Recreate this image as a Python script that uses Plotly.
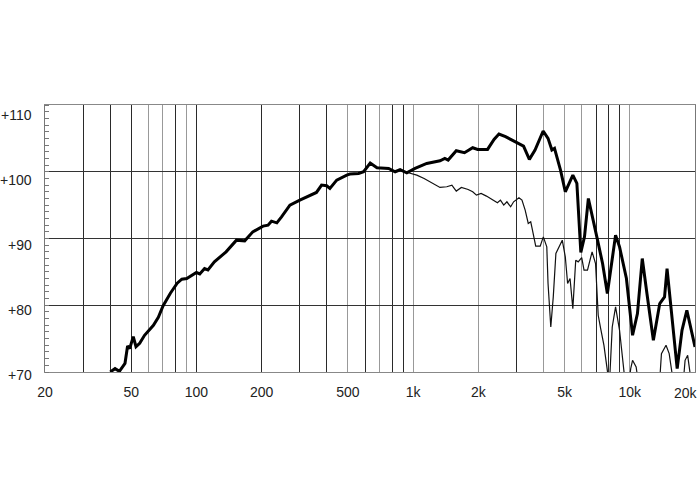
import math
import plotly.graph_objects as go

# On-axis response (thick line)
freq_on = [40, 42.1, 44.1, 46.8, 48.1, 49.2, 51.1, 52.6, 54.7, 57.6, 63.3, 66.7, 70.1, 75.8,
           81.5, 85.6, 90.2, 100, 103.6, 109, 113, 121, 137, 153, 167, 182, 203, 214, 222,
           235, 247, 270, 300, 333, 358, 378, 399, 413, 444, 494, 511, 560, 591, 634, 681,
           771, 826, 871, 935, 1021, 1156, 1331, 1401, 1451, 1582, 1726, 1884, 1986, 2206,
           2363, 2490, 2670, 2963, 3234, 3440, 3653, 3983, 4195, 4370, 4494, 4790, 5040,
           5460, 5700, 5944, 6180, 6440, 6800, 7100, 7490, 7880, 8600, 8970, 9650, 10300,
           10850, 11420, 12000, 12850, 13750, 14470, 14860, 15600, 16550, 17420, 18340, 20000]
spl_on = [70.0, 70.5, 70.1, 71.3, 73.9, 73.5, 75.3, 73.8, 74.3, 75.5, 77.0, 78.2, 79.9, 81.8,
          83.3, 83.9, 84.0, 84.9, 84.7, 85.5, 85.3, 86.5, 88.0, 89.75, 89.65, 91.0, 91.85, 92.0, 92.6,
          92.35, 93.25, 95.0, 95.75, 96.5, 96.9, 98.0, 97.9, 97.5, 98.75, 99.5, 99.65, 99.75, 100.0, 101.3, 100.6,
          100.5, 100.0, 100.3, 99.85, 100.5, 101.25, 101.65, 102.0, 101.75, 103.15, 102.85, 103.6, 103.35, 103.35,
          104.85, 105.65, 105.25, 104.5, 103.85, 101.85, 103.25, 106.1, 105.0, 103.25, 103.5, 100.25, 97.0,
          99.5, 98.25, 87.9, 90.25, 96.0, 92.75, 89.75, 86.25, 81.75, 90.5, 88.75, 84.0, 75.5,
          78.75, 87.0, 81.75, 74.75, 80.25, 81.25, 85.5, 78.25, 70.5, 76.25, 79.25, 73.75]

# Off-axis response (thin line)
freq_off = [951, 1040, 1124, 1241, 1331, 1430, 1510, 1582, 1670, 1795, 1884, 1960, 2060, 2180,
            2320, 2450, 2530, 2620, 2710, 2820, 2910, 3080, 3180, 3290, 3400, 3490, 3530, 3680,
            3860, 3990, 4140, 4195, 4320, 4435, 4560, 4705, 4880, 5040, 5165, 5300, 5460, 5630,
            5780, 6000, 6150, 6380, 6700, 6950, 7150, 7340, 7600, 7880, 8050, 8300, 8600, 8970,
            9350, 9700, 10100, 10300, 10700, 11000, 12500, 13700, 14000, 14700, 15200, 15700,
            16300, 17500, 18000, 18500, 19000, 19500, 20000]
spl_off = [99.85, 99.5, 99.0, 98.25, 97.65, 97.75, 98.0, 97.1, 97.65, 97.35, 97.0, 96.5, 96.75, 96.35,
           95.75, 95.35, 95.75, 95.0, 95.5, 94.75, 95.5, 96.1, 95.75, 94.25, 92.25, 92.5, 91.75, 88.85,
           88.85, 90.25, 88.75, 83.25, 76.75, 81.25, 87.75, 88.65, 89.75, 87.25, 83.25, 84.0, 79.5, 86.75,
           86.5, 87.15, 85.25, 85.25, 88.0, 86.25, 78.5, 76.5, 74.0, 70.2, 68.0, 76.75, 79.75, 76.25,
           70.2, 66.0, 70.5, 71.75, 70.75, 68.0, 64.0, 68.0, 72.75, 74.0, 72.75, 70.2,
           66.0, 67.0, 71.75, 72.5, 70.2, 67.0, 69.0]

# Axis ticks / grid
x_label_vals = [20, 50, 100, 200, 500, 1000, 2000, 5000, 10000, 20000]
x_label_text = ["20", "50", "100", "200", "500", "1k", "2k", "5k", "10k", "20k"]
x_grid_dark = [30, 40, 50, 80, 100, 200, 300, 400, 600, 800, 900, 3000, 7000, 8000, 9000]
x_grid_light = [60, 70, 90, 500, 700, 1000, 2000, 4000, 5000, 6000, 10000]
y_label_vals = [70, 80, 90, 100, 110]
y_label_text = ["+70", "+80", "+90", "+100", "+110"]

FONT = "Liberation Sans, Arial, sans-serif"
TICKFONT = dict(family=FONT, size=14, color="#222222")

fig = go.Figure()
fig.add_trace(go.Scatter(x=freq_off, y=spl_off, mode="lines", xaxis="x2",
                         line=dict(color="#111111", width=1.2), showlegend=False, hoverinfo="skip"))
fig.add_trace(go.Scatter(x=freq_on, y=spl_on, mode="lines",
                         line=dict(color="#000000", width=3), showlegend=False, hoverinfo="skip"))

xrange = [math.log10(20), math.log10(20000)]
fig.update_layout(
    width=700, height=500,
    margin=dict(l=45, r=5, t=105, b=128),
    paper_bgcolor="white", plot_bgcolor="white",
    xaxis=dict(type="log", range=xrange, tickmode="array", tickvals=x_grid_dark, automargin=False,
               showticklabels=False, ticks="", showgrid=True, gridcolor="#2a2a2a", gridwidth=1,
               minor=dict(tickmode="array", tickvals=x_grid_light, showgrid=True,
                          gridcolor="#999999", gridwidth=1, ticks=""),
               showline=True, linecolor="#888888", linewidth=1, mirror=True, zeroline=False),
    xaxis2=dict(type="log", range=xrange, overlaying="x", anchor="y", side="bottom", automargin=False,
                tickmode="array", tickvals=x_label_vals[:-1], ticktext=x_label_text[:-1],
                showgrid=False, ticks="", ticklabelstandoff=10,
                tickfont=TICKFONT, zeroline=False),
    yaxis=dict(range=[70, 110], tickmode="array", tickvals=[80, 90, 100], automargin=False,
               showticklabels=False, ticks="", showgrid=True, gridcolor="#333333", gridwidth=1,
               minor=dict(dtick=1, tick0=70, ticks="inside", ticklen=4, tickcolor="#777777",
                          tickwidth=1, showgrid=False),
               showline=True, linecolor="#777777", linewidth=1, mirror=True, zeroline=False),
)

# last x label sits flush with the right edge of the image
fig.add_annotation(xref="paper", yref="paper", x=1, y=0, text=x_label_text[-1], showarrow=False,
                   xanchor="right", yanchor="top", xshift=5, yshift=-11, font=TICKFONT)

for v, t in zip(y_label_vals, y_label_text):
    fig.add_annotation(xref="paper", yref="y", x=0, y=v, text=t, showarrow=False,
                       xanchor="right", yanchor="middle", xshift=-11,
                       yshift=-(3.3 + (v - 70) * 0.167), font=TICKFONT)

fig.write_html("out.html", config={"displayModeBar": False},
               post_script="document.body.style.margin='0';")
